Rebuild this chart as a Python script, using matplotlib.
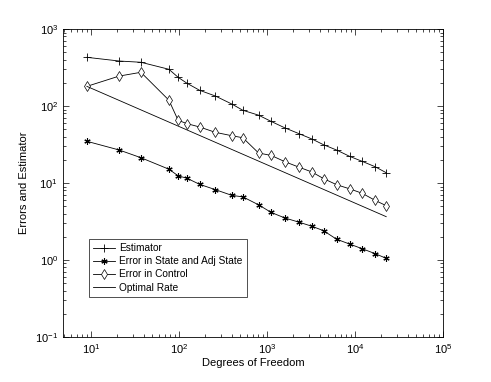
import numpy as np
import matplotlib
matplotlib.use('Agg')
import matplotlib.pyplot as plt

plt.rcParams['font.family'] = ['Liberation Sans', 'DejaVu Sans']
plt.rcParams['mathtext.fontset'] = 'custom'
plt.rcParams['mathtext.rm'] = 'Liberation Sans'

# degrees of freedom (shared by all series)
dof = [9, 21, 37, 77, 98, 124, 172, 259, 400, 533, 805, 1120, 1600, 2330,
       3245, 4400, 6190, 8700, 12100, 16900, 22700]

estimator = [429, 384, 370, 300, 236, 197, 160, 135, 106, 88, 76, 63, 52,
             43.6, 37.3, 31.4, 26.8, 22.2, 19.1, 16.3, 13.6]

err_state = [34.8, 26.8, 21.3, 15.1, 12.4, 11.5, 9.6, 8.2, 6.9, 6.6, 5.2,
             4.14, 3.51, 3.09, 2.74, 2.40, 1.86, 1.61, 1.40, 1.21, 1.05]

err_control = [180, 245, 274, 119, 65.2, 58.9, 53.4, 45.5, 41.1, 38.7, 24.5,
               22.8, 18.9, 16.0, 13.9, 11.4, 9.5, 8.4, 7.35, 5.96, 5.07]

optimal_dof = [9, 22700]
optimal_rate = [180, 3.65]

fig = plt.figure(figsize=(4.91, 3.82), dpi=100)
ax = fig.add_axes([0.128, 0.118, 0.774, 0.806])

lw = 0.6
ax.loglog(dof, estimator, color='black', lw=lw, marker='+', ms=5.5,
          mew=0.6, label='Estimator')
ax.loglog(dof, err_state, color='black', lw=lw, marker=(6, 2, 0), ms=4.5,
          mew=0.8, label='Error in State and Adj State')
ax.loglog(dof, err_control, color='black', lw=lw, marker='d', ms=5,
          mew=0.5, mfc='white', label='Error in Control')
ax.loglog(optimal_dof, optimal_rate, color='black', lw=lw, label='Optimal Rate')

ax.set_xlim(4.8, 1e5)
ax.set_ylim(0.1, 1000)

ax.tick_params(which='both', direction='in', top=True, right=True,
               labelsize=8, width=0.5)
ax.tick_params(which='major', length=4)
ax.tick_params(which='minor', length=2)
for s in ax.spines.values():
    s.set_linewidth(0.6)

ax.set_xlabel('Degrees of Freedom', fontsize=8, labelpad=2)
ax.set_ylabel('Errors and Estimator', fontsize=8, labelpad=4)

leg = ax.legend(loc='lower left', bbox_to_anchor=(0.069, 0.131), fontsize=7.3,
                frameon=True, fancybox=False, edgecolor='black',
                borderaxespad=0, handlelength=2.2, borderpad=0.4,
                labelspacing=0.3, handletextpad=0.4)
leg.get_frame().set_linewidth(0.6)

fig.savefig('out.png', dpi=100)
